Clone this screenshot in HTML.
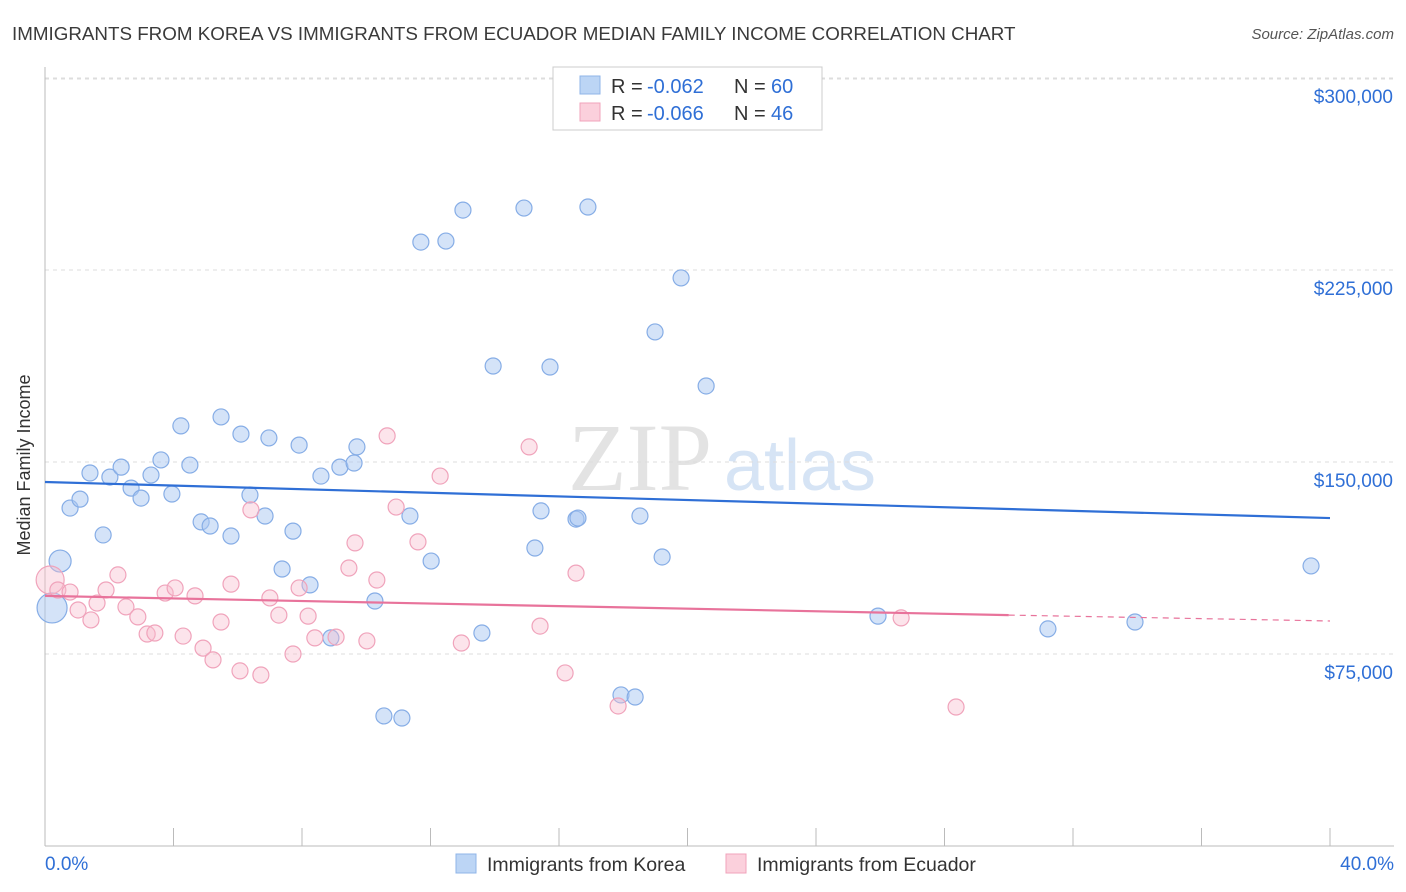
<!DOCTYPE html>
<html><head><meta charset="utf-8"><style>
body{margin:0;background:#fff;font-family:"Liberation Sans",sans-serif;}
#wrap{position:relative;width:1406px;height:892px;overflow:hidden;}
</style></head><body>
<div id="wrap">
<svg id="svg" width="1406" height="892" xmlns="http://www.w3.org/2000/svg">
<text x="12" y="40" font-size="18.8" fill="#3a3a3a">IMMIGRANTS FROM KOREA VS IMMIGRANTS FROM ECUADOR MEDIAN FAMILY INCOME CORRELATION CHART</text>
<text x="1394" y="39" font-size="15" fill="#555" text-anchor="end" font-style="italic">Source: ZipAtlas.com</text>
<text x="640" y="490" font-size="96" fill="#e3e3e3" font-family="Liberation Serif,serif" text-anchor="middle">ZIP</text>
<text x="800" y="490" font-size="72" fill="#d6e4f5" text-anchor="middle">atlas</text>
<g id="grid"></g><g id="axes"></g><g id="pts"></g><g id="lines"></g>
<g font-size="20">
<rect x="553" y="67" width="269" height="63" fill="#fff" stroke="#ccc"/>
<rect x="580" y="76" width="20" height="18" fill="#bcd5f5" stroke="#8fb5e8"/>
<text x="611" y="93" fill="#333">R =</text>
<text x="647" y="93" fill="#2f6fd6">-0.062</text>
<text x="734" y="93" fill="#333">N =</text>
<text x="771" y="93" fill="#2f6fd6">60</text>
<rect x="580" y="103" width="20" height="18" fill="#fbd0dc" stroke="#f0a3bb"/>
<text x="611" y="120" fill="#333">R =</text>
<text x="647" y="120" fill="#2f6fd6">-0.066</text>
<text x="734" y="120" fill="#333">N =</text>
<text x="771" y="120" fill="#2f6fd6">46</text>
</g>
<g>
<rect x="456" y="854" width="20" height="19" fill="#bcd5f5" stroke="#8fb5e8"/>
<text x="487" y="871" font-size="19.5" fill="#333">Immigrants from Korea</text>
<rect x="726" y="854" width="20" height="19" fill="#fbd0dc" stroke="#f0a3bb"/>
<text x="757" y="871" font-size="19.5" fill="#333">Immigrants from Ecuador</text>
</g>
<text x="20" y="455" font-size="18" fill="#333" transform="rotate(-90 30 455)" text-anchor="middle">Median Family Income</text>
</svg>
</div>
<script>
const koreaX=[0.22,0.47,0.78,1.09,1.40,1.81,2.02,2.37,2.68,2.99,3.30,3.61,3.95,4.23,4.51,4.86,5.14,5.48,5.79,6.10,6.38,6.85,6.97,7.38,7.72,7.91,8.25,8.59,8.90,9.18,9.62,9.71,10.27,10.55,11.11,11.36,11.70,12.02,12.48,13.01,13.60,13.95,14.91,15.25,15.44,15.72,16.53,16.59,16.90,17.93,18.37,18.52,18.99,19.21,19.80,20.58,25.93,31.22,33.93,39.41];
const koreaY=[93.0,111.3,132.0,135.5,145.7,121.5,144.1,148.0,139.8,135.9,144.9,150.8,137.5,164.1,148.8,126.6,125.0,167.6,121.1,160.9,137.1,128.9,159.4,108.2,123.0,156.6,102.0,144.5,81.3,148.0,149.6,155.9,95.7,50.8,50.0,128.9,235.9,111.3,236.3,248.4,83.2,187.5,249.2,116.4,130.9,187.1,127.7,128.1,249.6,59.0,58.2,128.9,200.8,112.9,221.9,179.7,89.8,84.8,87.5,109.4];
const ecuadorX=[0.16,0.40,0.78,1.03,1.43,1.62,1.90,2.27,2.52,2.89,3.18,3.42,3.74,4.05,4.30,4.67,4.92,5.23,5.48,5.79,6.07,6.41,6.72,7.00,7.28,7.72,7.91,8.19,8.40,9.06,9.46,9.65,10.02,10.33,10.65,10.93,11.61,12.30,12.96,15.07,15.41,16.19,16.53,17.84,26.65,28.36];
const ecuadorY=[103.9,100.0,99.2,92.2,88.3,94.9,100.0,105.9,93.4,89.5,82.8,83.2,98.8,100.8,82.0,97.7,77.3,72.7,87.5,102.3,68.4,131.3,66.8,96.9,90.2,75.0,100.8,89.8,81.3,81.6,108.6,118.4,80.1,103.9,160.2,132.4,118.8,144.5,79.3,155.9,85.9,67.6,106.6,54.7,89.1,54.3];
const koreaTrendX=[0,40];const koreaTrendY=[142.2,128.1];
const ecuadorTrendX=[0,30,40];const ecuadorTrendY=[97.7,90.2,87.9];
const yTicks=[75,150,225,300];const yTickLabels=["$75,000","$150,000","$225,000","$300,000"];
const xTicks=[0,4,8,12,16,20,24,28,32,36,40];
const NS="http://www.w3.org/2000/svg";
const sx=v=>45+v*32.125, sy=v=>846-v*2.56;
function mk(t,a,p){const e=document.createElementNS(NS,t);for(const k in a)e.setAttribute(k,a[k]);p.appendChild(e);return e;}
const grid=document.getElementById('grid'),axes=document.getElementById('axes'),pts=document.getElementById('pts'),lines=document.getElementById('lines');
yTicks.forEach((v,i)=>{
 const l=mk('line',{x1:45,x2:1394,y1:sy(v),y2:sy(v),stroke:'#ddd','stroke-dasharray':'4,4'},grid);
 
 
 const t=mk('text',{x:1393,y:sy(v)+25,'font-size':19,fill:'#2f6fd6','text-anchor':'end'},axes);
 t.textContent=yTickLabels[i];
 
 
});
const tl=mk('line',{x1:45,x2:1394,y1:79,y2:79,stroke:'#ddd','stroke-dasharray':'4,4'},grid);


const ya=mk('line',{x1:45,x2:45,y1:67,y2:846,stroke:'#bbb'},axes);


const xa=mk('line',{x1:45,x2:1394,y1:846,y2:846,stroke:'#bbb'},axes);


xTicks.forEach(v=>{const l=mk('line',{x1:sx(v),x2:sx(v),y1:828,y2:846,stroke:'#bbb'},axes);
 
 });
const x0=mk('text',{x:45,y:870,'font-size':19,fill:'#2f6fd6'},axes);x0.textContent='0.0%';


const x1=mk('text',{x:1394,y:870,'font-size':19,fill:'#2f6fd6','text-anchor':'end'},axes);x1.textContent='40.0%';


koreaX.forEach((x,i)=>{const r=i==0?15:(i==1?11:8);
 const c=mk('circle',{cx:sx(x),cy:sy(koreaY[i]),r:r,fill:'rgba(170,200,242,0.5)',stroke:'#86ade6','stroke-width':1.2},pts);
 
 });
ecuadorX.forEach((x,i)=>{const r=i==0?14:8;
 const c=mk('circle',{cx:sx(x),cy:sy(ecuadorY[i]),r:r,fill:'rgba(248,188,206,0.4)',stroke:'#f0a3bb','stroke-width':1.2},pts);
 
 });
const kl=mk('line',{x1:sx(koreaTrendX[0]),y1:sy(koreaTrendY[0]),x2:sx(koreaTrendX[1]),y2:sy(koreaTrendY[1]),stroke:'#2f6fd6','stroke-width':2.2},lines);


const el=mk('line',{x1:sx(ecuadorTrendX[0]),y1:sy(ecuadorTrendY[0]),x2:sx(ecuadorTrendX[1]),y2:sy(ecuadorTrendY[1]),stroke:'#e8739b','stroke-width':2.2},lines);


const ed=mk('line',{x1:sx(ecuadorTrendX[1]),y1:sy(ecuadorTrendY[1]),x2:sx(ecuadorTrendX[2]),y2:sy(ecuadorTrendY[2]),stroke:'#e8739b','stroke-width':1.2,'stroke-dasharray':'6,5'},lines);


</script>
</body></html>
